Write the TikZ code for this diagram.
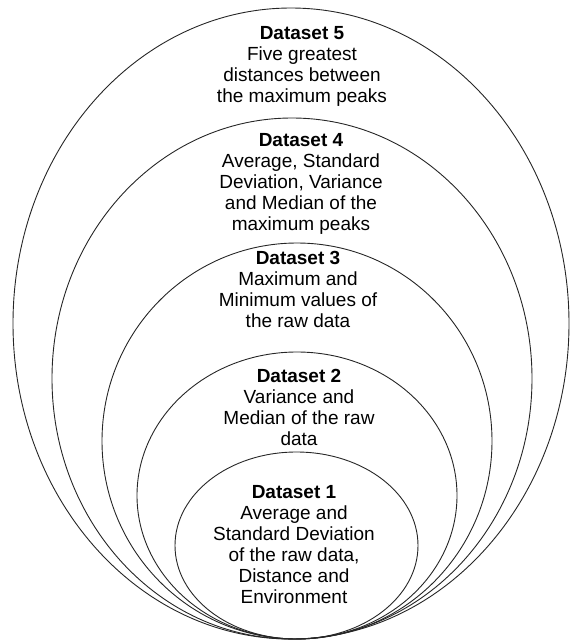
\documentclass[tikz,border=0pt]{standalone}
\usepackage{fontspec}
\setmainfont{Liberation Sans}
\usepackage{tikz}
\usetikzlibrary{calc}
\tikzset{>=latex}
\tikzset{
  ring/.style={line width=0.9pt, draw=black!85},
  label/.style={align=center, inner sep=0pt, font=\fontsize{19}{21}\selectfont}
}

\begin{document}
\begin{tikzpicture}[x=1pt, y=-1pt]
        \useasboundingbox (0, 0) rectangle (570, 641);

        % Dataset 5
        \draw[ring] (291, 323.5) ellipse (278 and 315.5);
        \node[label] (d5) at (302, 66) {\textbf{Dataset 5}\\Five greatest\\distances between\\the maximum peaks};

        % Dataset 4
        \draw[ring] (292, 378.5) ellipse (240 and 260.5);
        \node[label] (d4) at (301, 184) {\textbf{Dataset 4}\\Average, Standard\\Deviation, Variance\\and Median of the\\maximum peaks};

        % Dataset 3
        \draw[ring] (297, 441) ellipse (195 and 198);
        \node[label] (d3) at (298, 289) {\textbf{Dataset 3}\\Maximum and\\Minimum values of\\the raw data};

        % Dataset 2
        \draw[ring] (297, 495.5) ellipse (160 and 143.5);
        \node[label] (d2) at (299, 407) {\textbf{Dataset 2}\\Variance and\\Median of the raw\\data};

        % Dataset 1
        \draw[ring] (296.5, 545.5) ellipse (121.5 and 93.5);
        \node[label] (d1) at (294, 545) {\textbf{Dataset 1}\\Average and\\Standard Deviation\\of the raw data,\\Distance and\\Environment};
    \end{tikzpicture}
\end{document}
